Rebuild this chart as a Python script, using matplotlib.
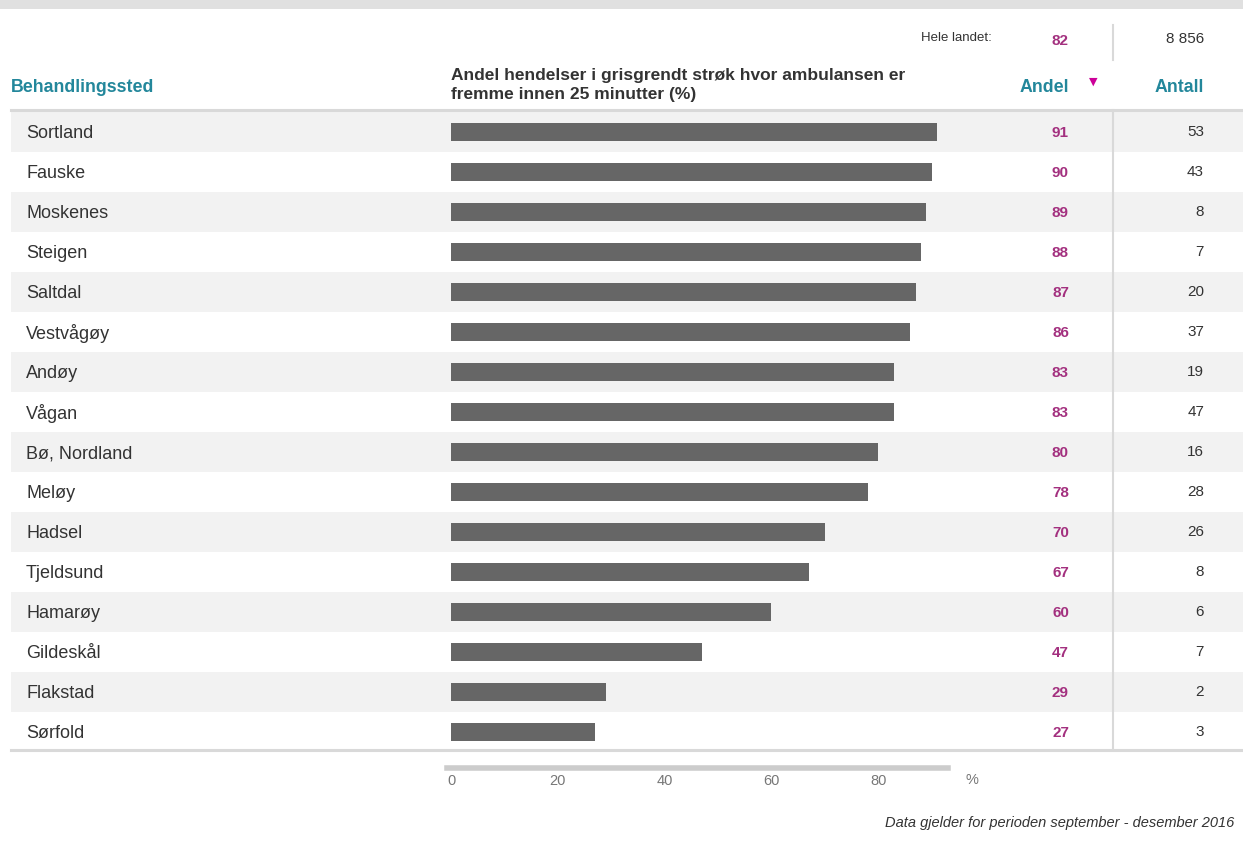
import matplotlib.pyplot as plt
import matplotlib.transforms as mtrans
from matplotlib.lines import Line2D

plt.rcParams['font.family'] = ['Liberation Sans', 'DejaVu Sans']

# data
steder = ['Sortland', 'Fauske', 'Moskenes', 'Steigen', 'Saltdal', 'Vestvågøy',
          'Andøy', 'Vågan', 'Bø, Nordland', 'Meløy', 'Hadsel', 'Tjeldsund',
          'Hamarøy', 'Gildeskål', 'Flakstad', 'Sørfold']
andel = [91, 90, 89, 88, 87, 86, 83, 83, 80, 78, 70, 67, 60, 47, 29, 27]
antall = [53, 43, 8, 7, 20, 37, 19, 47, 16, 28, 26, 8, 6, 7, 2, 3]
ticks = [0, 20, 40, 60, 80]
hele_andel = 82
hele_antall = '8 856'

W, H = 1243, 850
teal = '#23879b'
magenta = '#a3307f'
dark = '#333333'
linegray = '#d9d9d9'

def fx(px):
    return px / W

def fy(py):
    return 1 - py / H

fig = plt.figure(figsize=(W / 100, H / 100), dpi=100)

# top gray strip
fig.add_artist(plt.Rectangle((0, fy(9)), 1, 9 / H, transform=fig.transFigure,
                             color='#e0e0e0', lw=0))

# main axes: full table width, 0 at px 451, 5.34 px per unit
scale = 5.34
x0_px = 451
left_px, right_px = 11, 1243
n = len(steder)
top_px, bot_px = 112, 112 + 40 * n
ax = fig.add_axes([fx(left_px), fy(bot_px), (right_px - left_px) / W, (bot_px - top_px) / H])
ax.set_xlim(-(x0_px - left_px) / scale, (right_px - x0_px) / scale)
ax.set_ylim(n - 0.5, -0.5)
ax.axis('off')

for i in range(n):
    if i % 2 == 0:
        ax.axhspan(i - 0.5, i + 0.5, color='#f2f2f2', lw=0, zorder=0)
ax.barh(range(n), andel, height=0.43, color='#666666', zorder=2)
ax.axhline(-0.56, color=linegray, lw=2.2, clip_on=False, zorder=3)
ax.axhline(n - 0.56, color=linegray, lw=2.2, clip_on=False, zorder=3)

tr = mtrans.blended_transform_factory(fig.transFigure, ax.transData)
for i in range(n):
    ax.text(fx(26), i + 0.04, steder[i], transform=tr, ha='left', va='center',
            fontsize=13, color=dark)
    ax.text(fx(1069), i + 0.03, str(andel[i]), transform=tr, ha='right', va='center',
            fontsize=11, color=magenta, fontweight='bold')
    ax.text(fx(1204), i + 0.01, str(antall[i]), transform=tr, ha='right', va='center',
            fontsize=11, color=dark)

# vertical dividers
fig.add_artist(Line2D([fx(1113), fx(1113)], [fy(top_px - 2), fy(bot_px - 3)],
                      transform=fig.transFigure, color=linegray, lw=1.5))
fig.add_artist(Line2D([fx(1113), fx(1113)], [fy(25), fy(60)],
                      transform=fig.transFigure, color=linegray, lw=1.5))

# header
fig.text(fx(11), fy(87), 'Behandlingssted', ha='left', va='center',
         fontsize=12.8, fontweight='bold', color=teal)
fig.text(fx(451), fy(85), 'Andel hendelser i grisgrendt strøk hvor ambulansen er\nfremme innen 25 minutter (%)',
         ha='left', va='center', fontsize=12.5, fontweight='bold', color=dark,
         linespacing=1.3)
fig.text(fx(1069), fy(87), 'Andel', ha='right', va='center',
         fontsize=12.8, fontweight='bold', color=teal)
fig.text(fx(1093), fy(82), '▼', ha='center', va='center',
         fontsize=8, color='#cc0099', family='DejaVu Sans')
fig.text(fx(1204), fy(87), 'Antall', ha='right', va='center',
         fontsize=12.8, fontweight='bold', color=teal)
fig.text(fx(992), fy(38), 'Hele landet:', ha='right', va='center',
         fontsize=9.5, color=dark)
fig.text(fx(1069), fy(41), str(hele_andel), ha='right', va='center',
         fontsize=11, fontweight='bold', color=magenta)
fig.text(fx(1204), fy(39), hele_antall, ha='right', va='center',
         fontsize=11, color=dark)

# scale axis
sax = fig.add_axes([fx(x0_px - 4), fy(768), (948 - x0_px + 4) / W, 0.001])
sax.set_xlim(-4 / scale, (948 - x0_px) / scale)
sax.set_ylim(0, 1)
for s in ['top', 'left', 'right']:
    sax.spines[s].set_visible(False)
sax.spines['bottom'].set_color('#cccccc')
sax.spines['bottom'].set_linewidth(4)
sax.set_yticks([])
sax.set_xticks(ticks)
sax.set_xticklabels([str(t) for t in ticks])
sax.tick_params(axis='x', length=0, pad=4, labelsize=10.5, labelcolor='#777777')
sax.patch.set_alpha(0)
fig.text(fx(972), fy(780), '%', ha='center', va='center', fontsize=10.5, color='#777777')

fig.text(fx(1234), fy(823), 'Data gjelder for perioden september - desember 2016',
         ha='right', va='center', fontsize=10.5, style='italic', color=dark)

fig.savefig('out.png', dpi=100)
